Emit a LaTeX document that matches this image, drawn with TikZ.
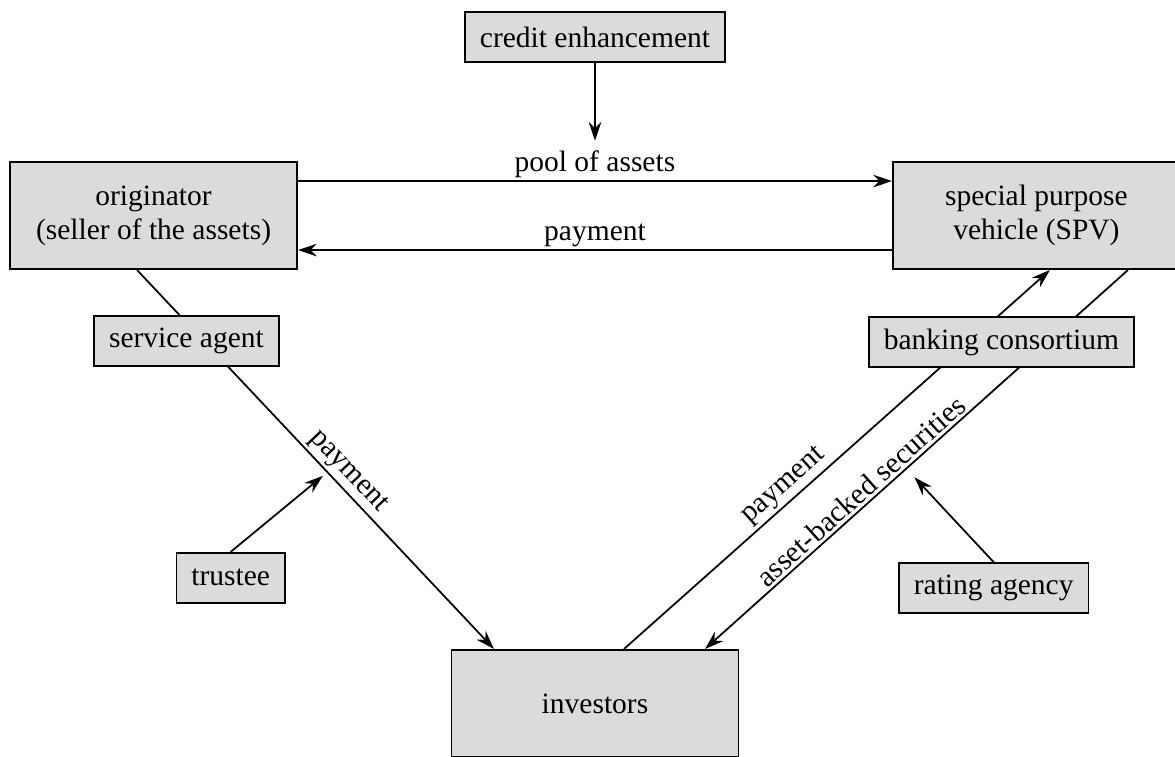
\documentclass[tikz,border=0pt]{standalone}
\usepackage{fontspec}
\setmainfont{Liberation Serif}
\usetikzlibrary{arrows.meta}
\usetikzlibrary{positioning}
\definecolor{boxgray}{gray}{0.86}
\tikzstyle{party} = [rectangle, text centered, draw=black, fill=boxgray, minimum height=0.7cm, inner xsep=0.21cm, inner ysep=0.1cm, line width=0.7pt]
\tikzstyle{mainparty} = [rectangle, minimum width=4.02cm, minimum height=1.5cm, text centered, align=center, draw=black, fill=boxgray, line width=0.7pt]
\tikzstyle{arrow} = [line width=0.7pt, >={Stealth[length=7.5pt, width=5pt, inset=2.5pt]}, ->]
\tikzstyle{flowlabel} = [inner sep=1pt]

\begin{document}
\begin{tikzpicture}[node distance = 2.5cm, font=\fontsize{11.75pt}{13.5pt}\selectfont]
                    \useasboundingbox (-8.33,0.518) rectangle (8.12,-10.066);
                    \node (Credit) [party] {credit enhancement};
                    \node (Orig) [mainparty, below of=Credit, xshift=-6.18cm] {originator\\(seller of the assets)};
                    \node (SPV) [mainparty, below of=Credit, xshift=6.18cm] {special purpose\\vehicle (SPV)};
                    \node (Inv) [mainparty, node distance=9.33cm, below of=Credit] {investors};
                    \coordinate (Drop) at ([yshift=-1.09cm]Credit.south);
                    \draw [arrow] (Credit.south) -- (Drop);
                    \draw [arrow] ([yshift=0.483cm]Orig.east) -- node [flowlabel, above] {pool of assets} ([yshift=0.483cm]SPV.west);
                    \draw [arrow] ([yshift=-0.483cm]SPV.west) -- node [flowlabel, above] {payment} ([yshift=-0.483cm]Orig.east);
                    % flows to and from the investors
                    \draw [arrow] ([xshift=-0.231cm]Orig.south) -- node [flowlabel, above, sloped, pos=0.56] {payment} ([xshift=-1.414cm]Inv.north);
                    \draw [arrow] ([xshift=0.406cm]Inv.north) -- node [flowlabel, above, sloped, pos=0.40] {payment} ([xshift=0.189cm]SPV.south);
                    \draw [arrow, <-] ([xshift=1.54cm]Inv.north) -- node [flowlabel, above, sloped, pos=0.39] {asset-backed securities} ([xshift=1.281cm]SPV.south);
                    % parties on top of the flows
                    \node (Service) [party, node distance=1.76cm, below of=Orig, xshift=0.46cm] {service agent};
                    \node (Bank) [party, anchor=west] at ([xshift=-0.336cm, yshift=-1.771cm]SPV.west) {banking consortium};
                    \node (Trustee) [party, node distance=3.31cm, below of=Service, xshift=0.62cm] {trustee};
                    \node (Rating) [party, anchor=west] at ([xshift=0.42cm, yshift=-3.444cm]Bank.west) {rating agency};
                    \coordinate (TrusteeTip) at ([xshift=1.29cm, yshift=1.064cm]Trustee.north);
                    \coordinate (RatingTip) at ([xshift=-1.11cm, yshift=1.19cm]Rating.north);
                    \draw [arrow] (Trustee.north) -- (TrusteeTip);
                    \draw [arrow] (Rating.north) -- (RatingTip);
                \end{tikzpicture}
\end{document}
